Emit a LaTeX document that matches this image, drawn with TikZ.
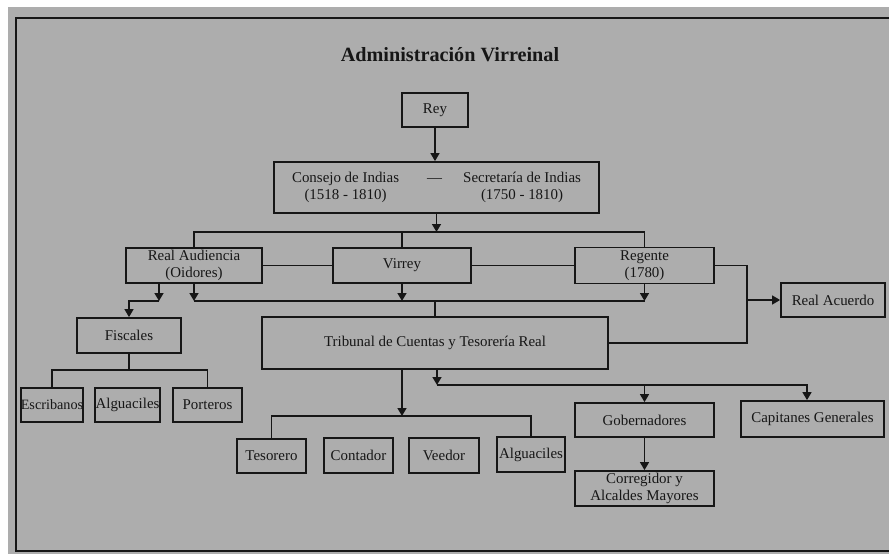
\documentclass[tikz,border=0pt]{standalone}
\usepackage{fontspec}
\setmainfont{Liberation Serif}
\usetikzlibrary{arrows.meta}
\definecolor{papel}{RGB}{173,173,173}
\definecolor{tinta}{RGB}{22,22,22}

\begin{document}
    \begin{tikzpicture}[x=0.02cm, y=-0.02cm,
        caja/.style 2 args={draw=tinta, line width=1pt, text=tinta, minimum width=#1*0.02cm, minimum height=#2*0.02cm, inner sep=0pt, align=center, font=\fontsize{8.5}{10}\selectfont},
        linea/.style={draw=tinta, line width=1pt},
        flecha/.style={linea, -{Triangle[width=5pt,length=4.5pt]}}]
        \useasboundingbox (0,0) rectangle (889,554) ;
        \fill[white] (0,0) rectangle (889,554) ;
        \fill[papel] (8,7) rectangle (889,554) ;
        \draw[tinta, line width=1.2pt] (889,18) -- (16,18) -- (16,551) -- (889,551) ;
        \node[text=tinta, font=\bfseries\fontsize{11.5}{14}\selectfont] (titulo) at (450,55) {Administración Virreinal} ;
        \node[caja={66}{34}] (rey) at (435,110) {Rey} ;
        \node[caja={325}{51}] (consejo) at (436.5,187.5) {\begin{tabular}{@{}c@{\hspace{16pt}}c@{\hspace{12pt}}c@{}}Consejo de Indias & --- & Secretaría de Indias\\(1518 - 1810) & & (1750 - 1810)\end{tabular}} ;
        \node[caja={136}{35}] (audiencia) at (194,265.5) {Real Audiencia\\(Oidores)} ;
        \node[caja={138}{35}] (virrey) at (402,265.5) {Virrey} ;
        \node[caja={139}{36}] (regente) at (644.5,265.5) {Regente\\(1780)} ;
        \node[caja={104}{34}] (acuerdo) at (833,300) {Real Acuerdo} ;
        \node[caja={104}{35}] (fiscales) at (129,335.5) {Fiscales} ;
        \node[caja={62}{34}, font=\fontsize{8.1}{10}\selectfont] (escribanos) at (52,405) {Escribanos} ;
        \node[caja={65}{34}] (alguacilesA) at (127.5,405) {Alguaciles} ;
        \node[caja={69}{34}] (porteros) at (207.5,405) {Porteros} ;
        \node[caja={346}{52}] (tribunal) at (435,343) {Tribunal de Cuentas y Tesorería Real} ;
        \node[caja={69}{34}] (tesorero) at (271.5,456) {Tesorero} ;
        \node[caja={69}{35}] (contador) at (358.5,455.5) {Contador} ;
        \node[caja={70}{35}] (veedor) at (444,455.5) {Veedor} ;
        \node[caja={68}{35}] (alguacilesB) at (531,454.5) {Alguaciles} ;
        \node[caja={139}{34}] (gobernadores) at (644.5,420) {Gobernadores} ;
        \node[caja={143}{36}] (capitanes) at (812.5,419) {Capitanes Generales} ;
        \node[caja={139}{35}] (corregidor) at (644.5,488.5) {Corregidor y\\Alcaldes Mayores} ;
        \coordinate (bus1) at (435,232) ;
        \coordinate (bus2) at (435,301) ;
        \coordinate (bus3) at (402,416) ;
        \coordinate (bus4) at (437,385) ;
        \coordinate (bus5) at (129,370) ;
        \coordinate (codo) at (747,343) ;
        \coordinate (ra1) at ([xshift=-0.7cm]audiencia.south) ;
        \coordinate (tr1) at ([xshift=-0.66cm]tribunal.south) ;
        \coordinate (tr2) at ([xshift=0.04cm]tribunal.south) ;
        \coordinate (cg) at ([xshift=-0.11cm]capitanes.north) ;
        \draw[flecha] (rey.south) -- (rey.south |- consejo.north) ;
        \draw[flecha] (consejo.south) -- (consejo.south |- bus1) ;
        \draw[linea] (audiencia.north) |- (bus1) -| (regente.north) ;
        \draw[linea] (virrey.north) -- (virrey.north |- bus1) ;
        \draw[linea] (audiencia.east) -- (virrey.west) ;
        \draw[linea] (virrey.east) -- (regente.west) ;
        \draw[linea] (regente.east) -| (codo) -- (tribunal.east) ;
        \draw[flecha] (acuerdo.west -| codo) -- (acuerdo.west) ;
        \draw[flecha] (ra1) -- (ra1 |- bus2) ;
        \draw[flecha] (ra1 |- bus2) -| (fiscales.north) ;
        \draw[flecha] (audiencia.south) -- (audiencia.south |- bus2) ;
        \draw[flecha] (virrey.south) -- (virrey.south |- bus2) ;
        \draw[flecha] (regente.south) -- (regente.south |- bus2) ;
        \draw[linea] (audiencia.south |- bus2) -- (regente.south |- bus2) ;
        \draw[linea] (tribunal.north |- bus2) -- (tribunal.north) ;
        \draw[flecha] (tr1) -- (tr1 |- bus3) ;
        \draw[linea] (tesorero.north) |- (bus3) -| (alguacilesB.north) ;
        \draw[flecha] (tr2) -- (tr2 |- bus4) ;
        \draw[flecha] (tr2 |- bus4) -| (cg) ;
        \draw[flecha] (gobernadores.north |- bus4) -- (gobernadores.north) ;
        \draw[flecha] (gobernadores.south) -- (corregidor.north) ;
        \draw[linea] (fiscales.south) -- (bus5) ;
        \draw[linea] (escribanos.north) |- (bus5) -| (porteros.north) ;
    \end{tikzpicture}
\end{document}
